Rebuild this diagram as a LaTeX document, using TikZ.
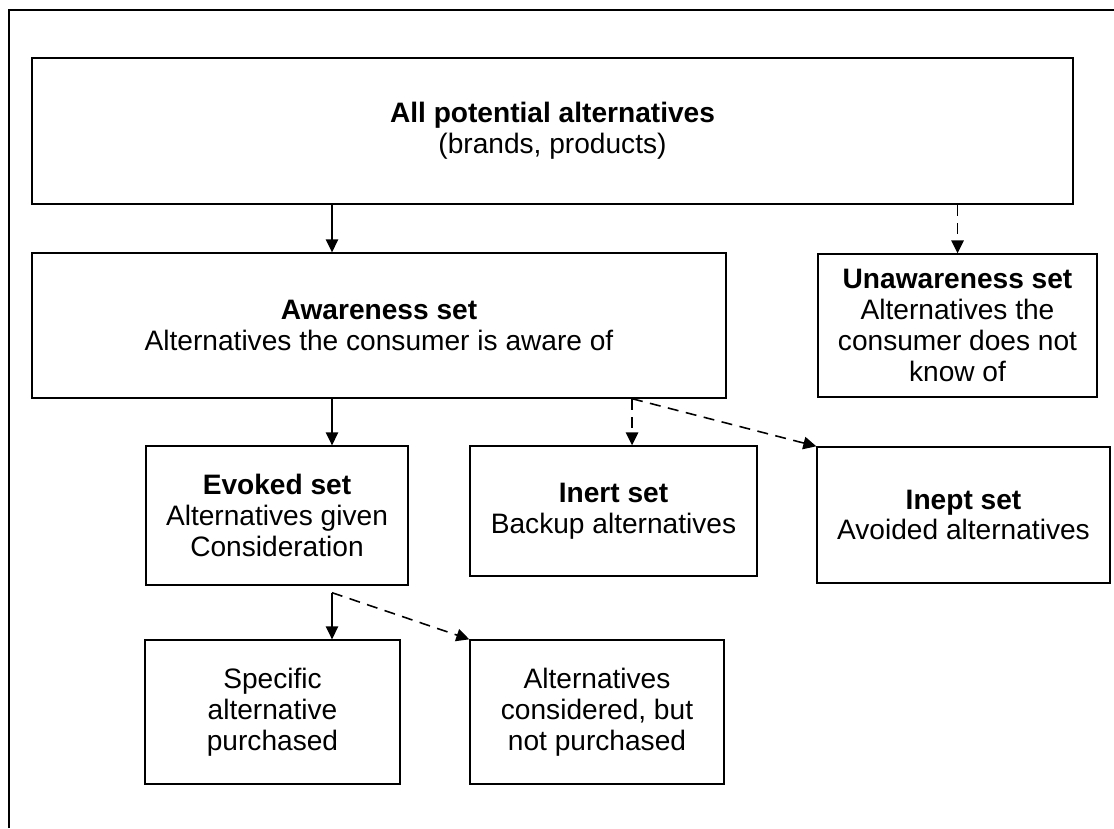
\documentclass[tikz,border=0pt]{standalone}
\usepackage{fontspec}
\setmainfont{Liberation Sans}
\usetikzlibrary{positioning,arrows.meta,calc}
\tikzset{
  setbox/.style={draw=black, line width=0.8pt, fill=white, align=center, inner sep=0pt,
                 font=\fontsize{16}{17.5}\selectfont},
  flow/.style={-{Triangle[length=2.6mm,width=2.5mm]}, line width=0.8pt, draw=black},
  flowd/.style={flow, line width=0.9pt, dash pattern=on 0.22cm off 0.15cm},
  frameline/.style={draw=black, line width=0.9pt},
}

\begin{document}
\begin{tikzpicture}[x=0.02cm, y=-0.02cm]
  \useasboundingbox (0,0) rectangle (1114,828);
  % page frame (top and left edge only)
  \draw[frameline] (9,828) -- (9,10) -- (1114,10);
  % sets
  \node[setbox, minimum width=20.82cm, minimum height=2.92cm] (allalt) at (552.5,131)
    {\textbf{All potential alternatives}\\(brands, products)};
  \node[setbox, minimum width=13.88cm, minimum height=2.9cm] (aware) at (379,325.5)
    {\textbf{Awareness set}\\Alternatives the consumer is aware of};
  \node[setbox, minimum width=5.58cm, minimum height=2.86cm] (unaware) at (957.5,325.5)
    {\textbf{Unawareness set}\\Alternatives the\\consumer does not\\know of};
  \node[setbox, minimum width=5.24cm, minimum height=2.78cm] (evoked) at (277,515.5)
    {\textbf{Evoked set}\\Alternatives given\\Consideration};
  \node[setbox, minimum width=5.74cm, minimum height=2.6cm] (inert) at (613.5,511)
    {\textbf{Inert set}\\Backup alternatives};
  \node[setbox, minimum width=5.86cm, minimum height=2.72cm] (inept) at (963.5,515)
    {\textbf{Inept set}\\Avoided alternatives};
  \node[setbox, minimum width=5.1cm, minimum height=2.88cm] (specific) at (272.5,712)
    {Specific\\alternative\\purchased};
  \node[setbox, minimum width=5.08cm, minimum height=2.88cm] (considered) at (597,712)
    {Alternatives\\considered, but\\not purchased};
  % columns of the down arrows
  \coordinate (colA) at (332,0);
  \coordinate (colB) at (632,0);
  \coordinate (split) at ([yshift=-0.14cm]evoked.south -| colA);
  % flows
  \draw[flow]  (allalt.south -| colA) -- (aware.north -| colA);
  \draw[flowd] (allalt.south -| unaware.north) -- (unaware.north);
  \draw[flow]  (aware.south -| colA) -- (evoked.north -| colA);
  \draw[flowd] (aware.south -| colB) -- (inert.north -| colB);
  \draw[flowd] (aware.south -| colB) -- (inept.north west);
  \draw[flow]  (split) -- (specific.north -| split);
  \draw[flowd] (split) -- (considered.north west);
\end{tikzpicture}
\end{document}
